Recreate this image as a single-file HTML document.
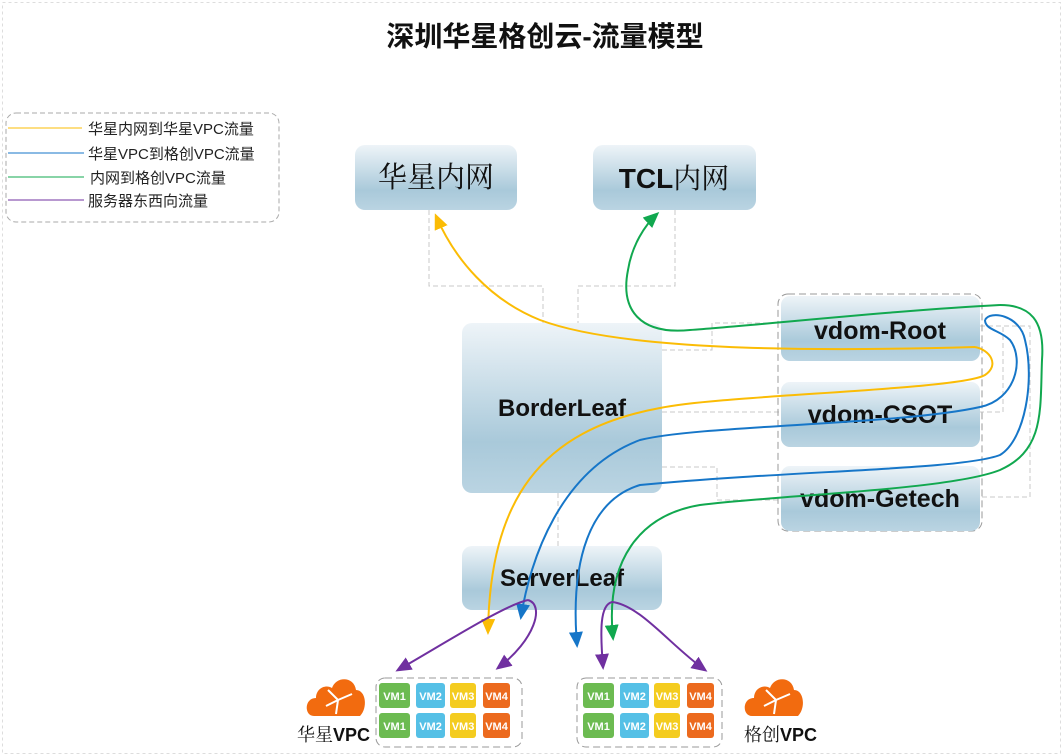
<!DOCTYPE html>
<html><head><meta charset="utf-8"><style>
html,body{margin:0;padding:0;background:#fff;}
svg{display:block;font-family:"Liberation Sans","Noto Sans CJK SC",sans-serif;}
</style></head><body>
<svg width="1063" height="756" viewBox="0 0 1063 756" xmlns="http://www.w3.org/2000/svg">
<defs>
<linearGradient id="g" x1="0" y1="0" x2="0" y2="1">
<stop offset="0" stop-color="#eef4f8"/><stop offset="0.7" stop-color="#a9c9da"/><stop offset="1" stop-color="#bad4e2"/></linearGradient>
<marker id="ay" markerWidth="16" markerHeight="14" refX="13" refY="7" orient="auto" markerUnits="userSpaceOnUse"><path d="M0,0 L16,7 L0,14 z" fill="#fbbc05"/></marker>
<marker id="ab" markerWidth="16" markerHeight="14" refX="13" refY="7" orient="auto" markerUnits="userSpaceOnUse"><path d="M0,0 L16,7 L0,14 z" fill="#1676c8"/></marker>
<marker id="ag" markerWidth="16" markerHeight="14" refX="13" refY="7" orient="auto" markerUnits="userSpaceOnUse"><path d="M0,0 L16,7 L0,14 z" fill="#11a84f"/></marker>
<marker id="ap" markerWidth="16" markerHeight="14" refX="13" refY="7" orient="auto" markerUnits="userSpaceOnUse"><path d="M0,0 L16,7 L0,14 z" fill="#7030a0"/></marker>
</defs>
<rect x="2.5" y="2.5" width="1058" height="751" fill="none" stroke="#ddd" stroke-dasharray="3,3"/>
<text x="545" y="46" text-anchor="middle" font-size="28" font-weight="bold" fill="#111">深圳华星格创云-流量模型</text>

<rect x="6" y="113" width="273" height="109" rx="10" fill="none" stroke="#aaa" stroke-dasharray="5,3"/>
<g font-size="15" fill="#222">
<line x1="8" y1="128" x2="82" y2="128" stroke="#fbbc05"/><text x="88" y="134">华星内网到华星VPC流量</text>
<line x1="8" y1="153" x2="84" y2="153" stroke="#1676c8"/><text x="88" y="159">华星VPC到格创VPC流量</text>
<line x1="8" y1="177" x2="84" y2="177" stroke="#11a84f"/><text x="90" y="183">内网到格创VPC流量</text>
<line x1="8" y1="200" x2="84" y2="200" stroke="#7030a0"/><text x="88" y="206">服务器东西向流量</text>
</g>

<g fill="none" stroke="#c8c8c8" stroke-dasharray="5,3">
<path d="M429 210 V286 H543 V323"/>
<path d="M675 210 V286 H578 V323"/>
<path d="M662 350 H712 V323 H782"/>
<path d="M662 412 H782"/>
<path d="M662 467 H717 V500 H782"/>
<path d="M980 326 H1003 V412 H980"/>
<path d="M980 326 H1030 V497 H980"/>
<path d="M558 493 V546"/>
</g>

<rect x="778" y="294" width="204" height="237" rx="10" fill="none" stroke="#999" stroke-dasharray="7,4"/>
<g fill="url(#g)">
<rect x="355" y="145" width="162" height="65" rx="10"/>
<rect x="593" y="145" width="163" height="65" rx="10"/>
<rect x="462" y="323" width="200" height="170" rx="10"/>
<rect x="462" y="546" width="200" height="64" rx="10"/>
<rect x="781" y="296" width="199" height="65" rx="9"/>
<rect x="781" y="382" width="199" height="65" rx="9"/>
<rect x="781" y="466" width="199" height="65" rx="9"/>
</g>
<g font-weight="bold" fill="#111" text-anchor="middle">
<text x="436" y="187" font-size="29" font-weight="normal" font-family="Noto Serif CJK SC,serif">华星内网</text>
<text x="674" y="188" font-size="28">TCL<tspan font-weight="normal" font-family="Noto Serif CJK SC,serif">内网</tspan></text>
<text x="562" y="416" font-size="24">BorderLeaf</text>
<text x="562" y="586" font-size="24">ServerLeaf</text>
<text x="880" y="339" font-size="25">vdom-Root</text>
<text x="880" y="423" font-size="25">vdom-CSOT</text>
<text x="880" y="507" font-size="25">vdom-Getech</text>
</g>

<g fill="none" stroke-width="2">
<path d="M975 347 C990 350 1000 365 985 375 C960 390 720 395 660 408 C540 430 490 500 488 632" stroke="#fbbc05" marker-end="url(#ay)"/>
<path d="M975 347 C800 352 620 350 540 320 C490 300 455 260 436 216" stroke="#fbbc05" marker-end="url(#ay)"/>
<path d="M985 320 C985 330 1000 330 1010 340 C1025 360 1015 400 980 407 C900 425 700 425 640 440 C560 470 530 560 521 617" stroke="#1676c8" marker-end="url(#ab)"/>
<path d="M985 320 C990 310 1020 315 1025 340 C1035 380 1025 440 1000 455 C960 470 800 470 640 485 C590 500 570 560 577 645" stroke="#1676c8" marker-end="url(#ab)"/>
<path d="M1000 305 C1030 305 1045 320 1042 360 C1040 410 1045 450 1000 470 C950 490 780 495 700 505 C640 515 605 560 613 638" stroke="#11a84f" marker-end="url(#ag)"/>
<path d="M1000 305 C900 310 760 325 690 330 C640 335 620 310 628 270 C632 245 645 225 657 214" stroke="#11a84f" marker-end="url(#ag)"/>
<path d="M528 600 C505 605 450 640 398 670" stroke="#7030a0" marker-end="url(#ap)"/>
<path d="M528 600 C545 605 535 640 498 668" stroke="#7030a0" marker-end="url(#ap)"/>
<path d="M612 602 C600 605 600 630 603 667" stroke="#7030a0" marker-end="url(#ap)"/>
<path d="M612 602 C640 605 670 645 705 670" stroke="#7030a0" marker-end="url(#ap)"/>
</g>

<rect x="376" y="678" width="146" height="69" rx="9" fill="none" stroke="#999" stroke-dasharray="7,4"/>
<rect x="577" y="678" width="145" height="69" rx="9" fill="none" stroke="#999" stroke-dasharray="7,4"/>
<g font-size="11" font-weight="bold" fill="#fff" text-anchor="middle">
<g>
<rect x="379" y="683" width="31" height="25" rx="3" fill="#6cbb51"/><text x="394.5" y="700">VM1</text>
<rect x="416" y="683" width="29" height="25" rx="3" fill="#55c0e6"/><text x="430.5" y="700">VM2</text>
<rect x="450" y="683" width="26" height="25" rx="3" fill="#f4cc1f"/><text x="463" y="700">VM3</text>
<rect x="483" y="683" width="27" height="25" rx="3" fill="#ec6a1e"/><text x="496.5" y="700">VM4</text>
<rect x="379" y="713" width="31" height="25" rx="3" fill="#6cbb51"/><text x="394.5" y="730">VM1</text>
<rect x="416" y="713" width="29" height="25" rx="3" fill="#55c0e6"/><text x="430.5" y="730">VM2</text>
<rect x="450" y="713" width="26" height="25" rx="3" fill="#f4cc1f"/><text x="463" y="730">VM3</text>
<rect x="483" y="713" width="27" height="25" rx="3" fill="#ec6a1e"/><text x="496.5" y="730">VM4</text>
</g>
<g transform="translate(204,0)">
<rect x="379" y="683" width="31" height="25" rx="3" fill="#6cbb51"/><text x="394.5" y="700">VM1</text>
<rect x="416" y="683" width="29" height="25" rx="3" fill="#55c0e6"/><text x="430.5" y="700">VM2</text>
<rect x="450" y="683" width="26" height="25" rx="3" fill="#f4cc1f"/><text x="463" y="700">VM3</text>
<rect x="483" y="683" width="27" height="25" rx="3" fill="#ec6a1e"/><text x="496.5" y="700">VM4</text>
<rect x="379" y="713" width="31" height="25" rx="3" fill="#6cbb51"/><text x="394.5" y="730">VM1</text>
<rect x="416" y="713" width="29" height="25" rx="3" fill="#55c0e6"/><text x="430.5" y="730">VM2</text>
<rect x="450" y="713" width="26" height="25" rx="3" fill="#f4cc1f"/><text x="463" y="730">VM3</text>
<rect x="483" y="713" width="27" height="25" rx="3" fill="#ec6a1e"/><text x="496.5" y="730">VM4</text>
</g>
</g>

<g fill="#f26b0f">
<g transform="translate(308,676)">
<path d="M6 40 C-4 40 -4 22 8 22 C8 12 18 8 24 12 C28 0 46 0 48 14 C58 14 60 32 52 40 Z"/>
<path d="M20 14 L30 24 L44 18 M30 24 L28 38 M30 24 L18 30" stroke="#fff" stroke-width="2" fill="none"/>
</g>
<g transform="translate(746,676)">
<path d="M6 40 C-4 40 -4 22 8 22 C8 12 18 8 24 12 C28 0 46 0 48 14 C58 14 60 32 52 40 Z"/>
<path d="M20 14 L30 24 L44 18 M30 24 L28 38 M30 24 L18 30" stroke="#fff" stroke-width="2" fill="none"/>
</g>
</g>
<text x="297" y="741" font-size="18" fill="#111"><tspan font-family="Noto Serif CJK SC,serif">华星</tspan><tspan font-weight="bold">VPC</tspan></text>
<text x="744" y="741" font-size="18" fill="#111"><tspan font-family="Noto Serif CJK SC,serif">格创</tspan><tspan font-weight="bold">VPC</tspan></text>
</svg>
</body></html>
